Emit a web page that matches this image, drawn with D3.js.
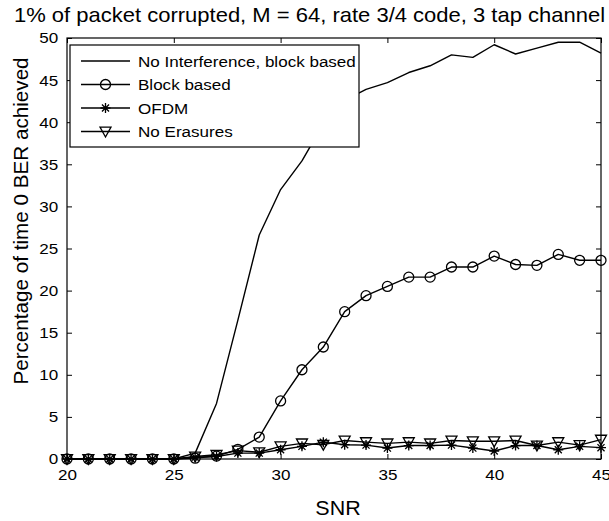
<!DOCTYPE html>
<html>
<head>
<meta charset="utf-8">
<script src="https://cdn.jsdelivr.net/npm/d3@7"></script>
<style>
  body { margin: 0; background: #fff; }
  svg { display: block; font-family: "Liberation Sans", Arial, Helvetica, sans-serif; }
</style>
</head>
<body>
<div id="chart"></div>
<script>
// DATA
var snr = [20, 21, 22, 23, 24, 25, 26, 27, 28, 29, 30, 31, 32, 33, 34, 35, 36, 37, 38, 39, 40, 41, 42, 43, 44, 45];
var noInterference = [0, 0, 0, 0, 0, 0, 0.7, 6.6, 16.5, 26.6, 32.0, 35.4, 39.8, 42.6, 43.9, 44.7, 45.9, 46.7, 48.0, 47.7, 49.2, 48.1, 48.8, 49.5, 49.5, 48.2];
var blockBased = [0, 0, 0, 0, 0, 0, 0.1, 0.35, 1.15, 2.6, 6.9, 10.6, 13.3, 17.5, 19.4, 20.5, 21.6, 21.6, 22.8, 22.8, 24.1, 23.1, 23.0, 24.3, 23.6, 23.6];
var ofdm = [0, 0, 0, 0, 0, 0, 0.2, 0.3, 0.7, 0.7, 1.1, 1.5, 2.0, 1.7, 1.65, 1.3, 1.6, 1.6, 1.65, 1.3, 0.95, 1.6, 1.6, 1.1, 1.5, 1.35];
var noErasures = [0, 0, 0, 0, 0, 0, 0.3, 0.5, 1.0, 0.8, 1.5, 1.85, 1.7, 2.2, 2.0, 1.85, 2.0, 1.85, 2.2, 2.1, 2.1, 2.2, 1.6, 2.0, 1.65, 2.3];
var xTicks = [20, 25, 30, 35, 40, 45];
var yTicks = [0, 5, 10, 15, 20, 25, 30, 35, 40, 45, 50];
var seriesNames = ["No Interference, block based", "Block based", "OFDM", "No Erasures"];
var seriesMarkers = ["none", "circle", "star", "triangle"];
var titleText = "1% of packet corrupted, M = 64, rate 3/4 code, 3 tap channel";

var W = 609, H = 521;
var margin = {left: 67, right: 8, top: 38, bottom: 62};
var pw = W - margin.left - margin.right;   // plot width
var ph = H - margin.top - margin.bottom;   // plot height
var stretch = 1.1; // the reference glyphs are a bit wider than Liberation Sans

var x = d3.scaleLinear().domain([20, 45]).range([0, pw]);
var y = d3.scaleLinear().domain([0, 50]).range([ph, 0]);

var svg = d3.select("#chart").append("svg")
  .attr("width", W)
  .attr("height", H);

var g = svg.append("g")
  .attr("transform", "translate(" + margin.left + "," + margin.top + ")");

// axes, ticks inward on all four sides
var tickLen = 5;
g.append("g").attr("transform", "translate(0," + ph + ")")
  .call(d3.axisBottom(x).tickValues(xTicks).tickSizeInner(-tickLen).tickSizeOuter(0).tickPadding(10));
g.append("g")
  .call(d3.axisTop(x).tickValues(xTicks).tickSizeInner(-tickLen).tickSizeOuter(0).tickFormat(""));
g.append("g")
  .call(d3.axisLeft(y).tickValues(yTicks).tickSizeInner(-tickLen).tickSizeOuter(0).tickPadding(8));
g.append("g").attr("transform", "translate(" + pw + ",0)")
  .call(d3.axisRight(y).tickValues(yTicks).tickSizeInner(-tickLen).tickSizeOuter(0).tickFormat(""));

g.selectAll(".domain").remove();
g.selectAll(".tick line").attr("stroke", "#000").attr("stroke-width", 1);
g.selectAll(".tick text")
  .attr("fill", "#000")
  .attr("transform", "scale(" + stretch + ",1)")
  .style("font-size", "15.5px")
  .style("font-family", "'Liberation Sans', Arial, sans-serif");

g.append("rect")
  .attr("x", 0).attr("y", 0)
  .attr("width", pw).attr("height", ph)
  .attr("fill", "none")
  .attr("stroke", "#000")
  .attr("stroke-width", 1.2);

// lines
var allSeries = [noInterference, blockBased, ofdm, noErasures];
var line = d3.line()
  .x(function (d, i) { return x(snr[i]); })
  .y(function (d) { return y(d); });

// draw bottom ones first so the markers stack like the reference
var drawOrder = [3, 2, 1, 0];
drawOrder.forEach(function (k) {
  g.append("path")
    .datum(allSeries[k])
    .attr("d", line)
    .attr("fill", "none")
    .attr("stroke", "#000")
    .attr("stroke-width", 1.4)
    .attr("stroke-linejoin", "round");
});

// marker drawing helper
function drawMarker(sel, type, cx, cy) {
  if (type === "circle") {
    sel.append("circle")
      .attr("cx", cx).attr("cy", cy).attr("r", 5)
      .attr("fill", "none").attr("stroke", "#000").attr("stroke-width", 1.3);
  } else if (type === "triangle") {
    var s = 5.5;
    sel.append("path")
      .attr("d", "M" + (cx - s) + "," + (cy - s * 0.8) + "L" + (cx + s) + "," + (cy - s * 0.8) + "L" + cx + "," + (cy + s) + "Z")
      .attr("fill", "none").attr("stroke", "#000").attr("stroke-width", 1.3);
  } else if (type === "star") {
    var r = 5;
    var d = "";
    [0, 45, 90, 135].forEach(function (a) {
      var rad = a * Math.PI / 180;
      d += "M" + (cx - r * Math.cos(rad)) + "," + (cy - r * Math.sin(rad)) +
           "L" + (cx + r * Math.cos(rad)) + "," + (cy + r * Math.sin(rad));
    });
    sel.append("path").attr("d", d)
      .attr("fill", "none").attr("stroke", "#000").attr("stroke-width", 1.3);
  }
}

drawOrder.forEach(function (k) {
  if (seriesMarkers[k] === "none") return;
  var mg = g.append("g");
  allSeries[k].forEach(function (v, i) {
    drawMarker(mg, seriesMarkers[k], x(snr[i]), y(v));
  });
});

// legend
var lg = g.append("g").attr("transform", "translate(3,7)");
var legW = 289, legH = 102, rowH = 23.5;
lg.append("rect")
  .attr("width", legW).attr("height", legH)
  .attr("fill", "#fff").attr("stroke", "#000").attr("stroke-width", 1.2);
seriesNames.forEach(function (name, k) {
  var ry = 16 + k * rowH;
  lg.append("line")
    .attr("x1", 11).attr("x2", 60)
    .attr("y1", ry).attr("y2", ry)
    .attr("stroke", "#000").attr("stroke-width", 1.4);
  drawMarker(lg, seriesMarkers[k], 35.5, ry);
  lg.append("text")
    .attr("transform", "translate(68," + (ry + 5.5) + ") scale(" + stretch + ",1)")
    .style("font-size", "15.5px")
    .text(name);
});

// title and axis labels
svg.append("text")
  .attr("transform", "translate(309.5,22) scale(" + stretch + ",1)")
  .attr("text-anchor", "middle")
  .style("font-size", "20px")
  .text(titleText);

svg.append("text")
  .attr("transform", "translate(338,515) scale(" + stretch + ",1)")
  .attr("text-anchor", "middle")
  .style("font-size", "19.5px")
  .text("SNR");

svg.append("text")
  .attr("transform", "translate(28,221) rotate(-90) scale(1.06,1)")
  .attr("text-anchor", "middle")
  .style("font-size", "19.5px")
  .text("Percentage of time 0 BER achieved");
</script>
</body>
</html>
